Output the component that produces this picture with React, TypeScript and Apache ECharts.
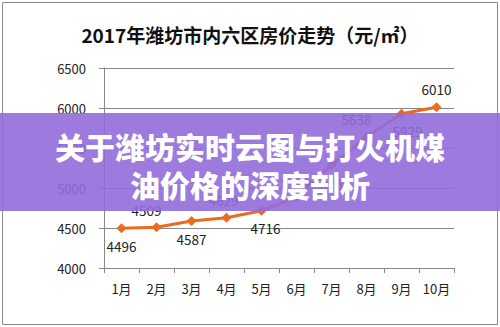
import React, { useEffect, useRef } from "react";
import * as echarts from "echarts";

const months = ["1月", "2月", "3月", "4月", "5月", "6月", "7月", "8月", "9月", "10月"];
const prices = [4496, 4509, 4587, 4629, 4716, 4885, 5285, 5638, 5929, 6010];
// where each value label sits relative to its point
const labelPos = ["bottom", "top", "bottom", "top", "bottom", "top", "bottom", "top", "bottom", "top"];
const labelShift = [0, -10, 0, -3, 4, 0, 4, -10, 6, 0];
const yTicks = [4000, 4500, 5000, 5500, 6000, 6500];

const chartTitle = "2017年潍坊市内六区房价走势（元/㎡）";
const bannerLines = ["关于潍坊实时云图与打火机煤", "油价格的深度剖析"];

const FONT = "'Noto Sans CJK SC', 'Noto Sans', sans-serif";

export default function App() {
  const ref = useRef<HTMLDivElement>(null);

  useEffect(() => {
    if (!ref.current) return;
    const chart = echarts.init(ref.current, null, { renderer: "svg" });
    chart.setOption({
      animation: false,
      backgroundColor: "#ffffff",
      textStyle: { fontFamily: FONT },
      grid: { left: 104, right: 46, top: 68, bottom: 59 },
      xAxis: {
        type: "category",
        data: months,
        boundaryGap: true,
        axisLine: { lineStyle: { color: "#888", width: 1 } },
        axisTick: { show: true, length: 5, lineStyle: { color: "#888" } },
        axisLabel: { color: "#222", fontSize: 13, margin: 14, interval: 0, fontFamily: FONT },
      },
      yAxis: {
        type: "value",
        min: yTicks[0],
        max: yTicks[yTicks.length - 1],
        interval: 500,
        axisLine: { show: true, lineStyle: { color: "#888", width: 1 } },
        axisTick: { show: true, length: 5, lineStyle: { color: "#888" } },
        axisLabel: {
          color: "#222",
          fontSize: 13,
          margin: 18,
          fontFamily: FONT,
          formatter: (v: number) => String(v),
        },
        splitLine: { lineStyle: { color: "#888", width: 1 } },
      },
      series: [
        {
          type: "line",
          data: prices.map((v, i) => ({
            value: v,
            label: {
              position: labelPos[i],
              offset: [labelShift[i], 0],
              distance: 6,
            },
          })),
          symbol: "diamond",
          symbolSize: 10,
          lineStyle: { color: "#ec6a1f", width: 3 },
          itemStyle: { color: "#ec6a1f" },
          label: {
            show: true,
            color: "#222",
            fontSize: 13.5,
            fontFamily: FONT,
          },
          z: 3,
        },
      ],
      graphic: [
        {
          type: "rect",
          shape: { x: 2.5, y: 2.5, width: 495, height: 322 },
          style: { fill: "none", stroke: "#8a8a8a", lineWidth: 1 },
          z: 1,
        },
        {
          type: "text",
          x: 250,
          y: 34,
          style: {
            text: chartTitle,
            fill: "#111",
            font: `bold 19px ${FONT}`,
            textAlign: "center",
            textVerticalAlign: "middle",
          },
          z: 5,
        },
        {
          type: "rect",
          shape: { x: 0, y: 113, width: 500, height: 98 },
          style: { fill: "rgba(145,108,218,0.9)" },
          z: 100,
        },
        {
          type: "text",
          x: 250,
          y: 146,
          style: {
            text: bannerLines[0],
            fill: "#ffffff",
            font: `900 30px ${FONT}`,
            textAlign: "center",
            textVerticalAlign: "middle",
          },
          z: 101,
        },
        {
          type: "text",
          x: 250,
          y: 184,
          style: {
            text: bannerLines[1],
            fill: "#ffffff",
            font: `900 30px ${FONT}`,
            textAlign: "center",
            textVerticalAlign: "middle",
          },
          z: 101,
        },
      ],
    });
    return () => chart.dispose();
  }, []);

  return <div ref={ref} style={{ width: 500, height: 327, position: "absolute", left: 0, top: 0 }} />;
}
